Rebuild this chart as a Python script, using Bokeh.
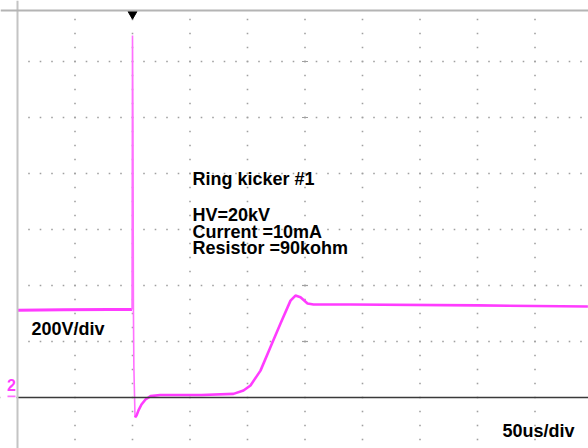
from bokeh.plotting import figure
from bokeh.models import Range1d, Span, Label, BoxAnnotation
from bokeh.embed import file_html
from bokeh.resources import INLINE

# ---------------- data (time in us relative to trigger, voltage in V) ----------------
T_DIV = 50          # us / div
V_DIV = 200         # V / div
t_grid = [-50, 0, 50, 100, 150, 200, 250, 300, 350]
v_grid = [200, 400, 600, 800, 1000, 1200]

pre_t = [-100, -60, -20, -0.4]
pre_v = [312, 313, 314, 314]

spike_t = [-0.4, 0.0, 0.4, 0.8, 1.2, 2.2]
spike_v = [314, 1293, 971, 314, 107, -71]

post_t = [2.2, 3.5, 5.2, 7.8, 11.3, 15.7, 24, 60, 87.8, 96.5, 102.6, 111.3,
          120, 128.7, 137.4, 141.7, 146.1, 152.2, 157.4, 190, 300, 396]
post_v = [-71, -64, -46, -25, -7, 5, 9, 9, 13, 25, 43, 96,
          180, 264, 346, 364, 358, 336, 332, 332, 329, 325]

title_text = "Ring kicker #1"
info_lines = ["HV=20kV", "Current =10mA", "Resistor =90kohm"]
vdiv_text = "200V/div"
tdiv_text = "50us/div"
channel_text = "2"

# ---------------- layout ----------------
W, H = 588, 448
SCREEN_L, SCREEN_T = 17, 10     # picture px of the scope screen's left / top edge
PX_T = 57.5   # px per time division
PX_V = 56.0   # px per volt division
ZERO_PY = 397

t_left = -2 * T_DIV                       # time at the screen's left edge
x0 = t_left - SCREEN_L * T_DIV / PX_T     # canvas left
x1 = x0 + W * T_DIV / PX_T
y1 = ZERO_PY * V_DIV / PX_V               # canvas top
y0 = y1 - H * V_DIV / PX_V
v_top = (ZERO_PY - SCREEN_T) * V_DIV / PX_V

def tx(px):   # picture x -> data t
    return x0 + px * T_DIV / PX_T

def vy(py):   # picture y -> data v
    return (ZERO_PY - py) * V_DIV / PX_V

p = figure(width=W, height=H, output_backend="svg", toolbar_location=None,
           x_range=Range1d(x0, x1), y_range=Range1d(y0, y1),
           x_axis_type=None, y_axis_type=None,
           min_border_left=0, min_border_top=0, min_border_right=0, min_border_bottom=0,
           background_fill_color="white", border_fill_color="white")
p.outline_line_color = None

# ---------------- dotted graticule ----------------
GRID = "#a0a0a0"
hx, hy = [], []
for v in v_grid:
    k = 1
    while t_left + k * 10 <= x1:
        hx.append(t_left + k * 10)
        hy.append(v)
        k += 1
vx, vyy = [], []
for t in t_grid:
    vv = y0 - (y0 % 50)
    while vv < v_top:
        vx.append(t)
        vyy.append(vv)
        vv += 50
p.scatter(hx, hy, marker="square", size=1.6, line_color=None, fill_color=GRID)
p.scatter(vx, vyy, marker="square", size=1.6, line_color=None, fill_color=GRID)

# center-line tick dashes
center_t = 150
p.scatter([center_t] * len(v_grid), v_grid, marker="dash", size=6, line_color=GRID, line_width=1.2)

# ground line of channel 2, masked left of / above the screen, then screen borders
p.add_layout(Span(location=0, dimension="width", line_color="#3a3a3a", line_width=1.6))
p.add_layout(BoxAnnotation(right=t_left - 0.7, fill_color="white", fill_alpha=1, line_color=None))
p.add_layout(BoxAnnotation(bottom=v_top + 4, fill_color="white", fill_alpha=1, line_color=None))
p.add_layout(Span(location=t_left, dimension="height", line_color="#c4c4c4", line_width=2))
p.add_layout(Span(location=v_top, dimension="width", line_color="#b4b4b4", line_width=2))

# ---------------- trace ----------------
MAG = "#ff3cff"
p.line(pre_t, pre_v, line_color=MAG, line_width=3)
p.line(spike_t, spike_v, line_color="#ff70ff", line_width=1.6)
p.line(post_t, post_v, line_color=MAG, line_width=2.6)

# trigger marker
p.scatter([0], [v_top - 3.5 * V_DIV / PX_V], marker="inverted_triangle", size=9,
          fill_color="black", line_color="black")

# ---------------- texts ----------------
FONT = "Liberation Sans"
DY = -6.5
def lab(text, px, py, size="18px", color="black", style="bold"):
    p.add_layout(Label(x=tx(px), y=vy(py + DY), text=text, text_font=FONT,
                       text_font_size=size, text_font_style=style, text_color=color,
                       text_baseline="alphabetic", text_align="left"))

lab(title_text, 192, 185)
for i, s in enumerate(info_lines):
    lab(s, 192, 221 + i * 16.6)
lab(vdiv_text, 31, 335)
lab(tdiv_text, 502, 437)

# channel marker
lab(channel_text, 6.5, 391, size="16px", color=MAG, style="bold")
p.add_layout(BoxAnnotation(left=tx(7), right=tx(15), bottom=vy(396.8), top=vy(395.0),
                           fill_color="#ff70ff", fill_alpha=1, line_color=None))

open("out.html", "w").write(file_html(p, INLINE))
